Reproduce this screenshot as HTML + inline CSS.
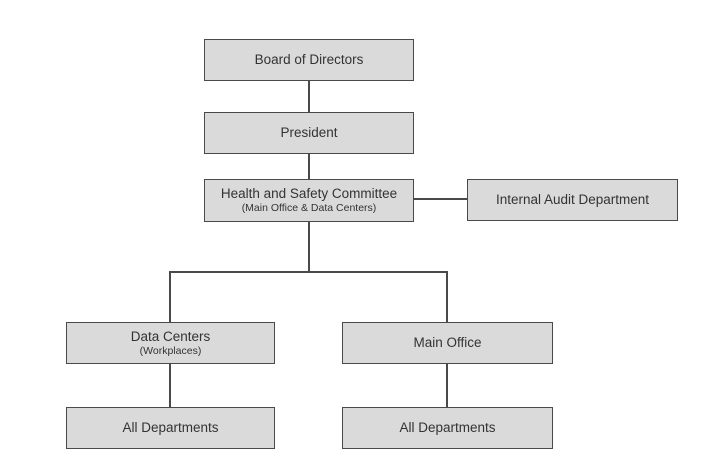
<!DOCTYPE html>
<html><head><style>
body{margin:0;width:715px;height:462px;background:#fff;position:relative;font-family:"Liberation Sans",sans-serif;overflow:hidden}
.b{position:absolute;box-sizing:border-box;background:#dadada;border:1.5px solid #4a4a4a;display:flex;flex-direction:column;align-items:center;justify-content:center;color:#333;font-size:13.5px;text-align:center;line-height:16px}
.b small{font-size:10.5px;line-height:13px}
.l{position:absolute;background:#4a4a4a}
</style></head><body>
<div class="l" style="left:308px;top:80px;width:1.5px;height:192px"></div>
<div class="l" style="left:413px;top:198px;width:54px;height:1.5px"></div>
<div class="l" style="left:170px;top:271px;width:278px;height:1.5px"></div>
<div class="l" style="left:169px;top:271px;width:1.5px;height:136px"></div>
<div class="l" style="left:446px;top:271px;width:1.5px;height:136px"></div>
<div class="b" style="left:204px;top:39px;width:210px;height:42px">Board of Directors</div>
<div class="b" style="left:204px;top:112px;width:210px;height:42px">President</div>
<div class="b" style="left:204px;top:179px;width:210px;height:43px">Health and Safety Committee<small>(Main Office &amp; Data Centers)</small></div>
<div class="b" style="left:467px;top:179px;width:211px;height:42px">Internal Audit Department</div>
<div class="b" style="left:66px;top:322px;width:209px;height:42px">Data Centers<small>(Workplaces)</small></div>
<div class="b" style="left:342px;top:322px;width:211px;height:42px">Main Office</div>
<div class="b" style="left:66px;top:407px;width:209px;height:42px">All Departments</div>
<div class="b" style="left:342px;top:407px;width:211px;height:42px">All Departments</div>
</body></html>
